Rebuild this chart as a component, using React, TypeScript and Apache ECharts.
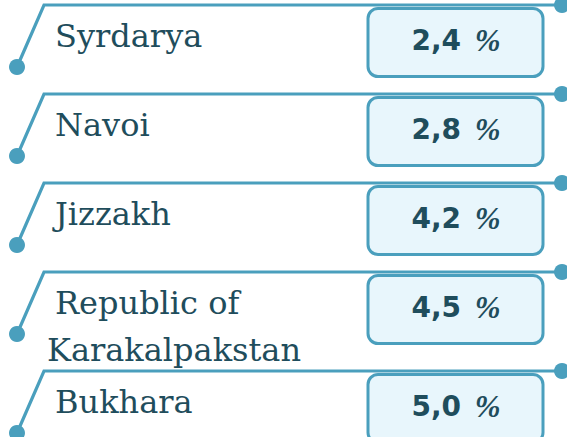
import React, { useEffect, useRef } from "react";
import * as echarts from "echarts";

const regions = ["Syrdarya", "Navoi", "Jizzakh", "Republic of\nKarakalpakstan", "Bukhara"];
const shares = [2.4, 2.8, 4.2, 4.5, 5.0];
const unit = "%";

const LINE = "#4a9fbd";
const FILL = "#e8f6fc";
const TEXT = "#1f4d5c";

export default function App() {
  const ref = useRef<HTMLDivElement>(null);
  useEffect(() => {
    document.body.style.margin = "0";
    if (!ref.current) return;
    const chart = echarts.init(ref.current, undefined, { renderer: "svg" });
    // extra vertical offset for rows following multi-line labels
    const extra: number[] = [];
    let acc = 0;
    regions.forEach((r) => {
      extra.push(acc);
      acc += (r.split("\n").length - 1) * 10;
    });
    const option: any = {
      animation: false,
      grid: { left: 0, right: 0, top: 5, height: 356 },
      xAxis: { type: "value", min: 0, max: 1, show: false },
      yAxis: {
        type: "category",
        data: regions,
        inverse: true,
        boundaryGap: false,
        show: false,
      },
      series: [
        {
          type: "custom",
          clip: false,
          encode: { x: 0, y: 1 },
          data: shares.map((v, i) => [0, i, v]),
          renderItem: (params: any, api: any) => {
            const i = api.value(1);
            const v = api.value(2);
            const L = api.coord([0, i])[1] + extra[i];
            const lines = regions[i].split("\n");
            const children: any[] = [
              {
                type: "polyline",
                shape: { points: [[17, L + 62], [44, L], [562, L]] },
                style: { stroke: LINE, lineWidth: 3.2, fill: null, lineJoin: "miter" },
              },
              { type: "circle", shape: { cx: 17, cy: L + 62, r: 8 }, style: { fill: LINE } },
              { type: "circle", shape: { cx: 562, cy: L, r: 8 }, style: { fill: LINE } },
              {
                type: "rect",
                shape: { x: 368, y: L + 3.5, width: 175, height: 68, r: 10 },
                style: { fill: FILL, stroke: LINE, lineWidth: 3 },
              },
              {
                type: "text",
                style: {
                  x: 456,
                  y: L + 35,
                  align: "center",
                  verticalAlign: "middle",
                  text: `{v|${v.toFixed(1).replace(".", ",")} }{p|${unit}}`,
                  rich: {
                    v: {
                      fontFamily: "DejaVu Sans",
                      fontWeight: "bold",
                      fontSize: 28,
                      fill: TEXT,
                    },
                    p: {
                      fontFamily: "Liberation Serif",
                      fontStyle: "italic",
                      fontWeight: "bold",
                      fontSize: 31,
                      fill: TEXT,
                      padding: [0, 0, 0, 4],
                    },
                  },
                },
              },
            ];
            lines.forEach((ln, k) => {
              children.push({
                type: "text",
                style: {
                  x: k === 0 ? 55 : 47,
                  y: L + 31 + k * 47,
                  text: ln,
                  align: "left",
                  verticalAlign: "middle",
                  fontFamily: "DejaVu Serif",
                  fontSize: 32,
                  fill: TEXT,
                },
              });
            });
            return { type: "group", children };
          },
        },
      ],
    };
    chart.setOption(option);
    return () => chart.dispose();
  }, []);
  return <div ref={ref} style={{ width: 567, height: 437 }} />;
}
